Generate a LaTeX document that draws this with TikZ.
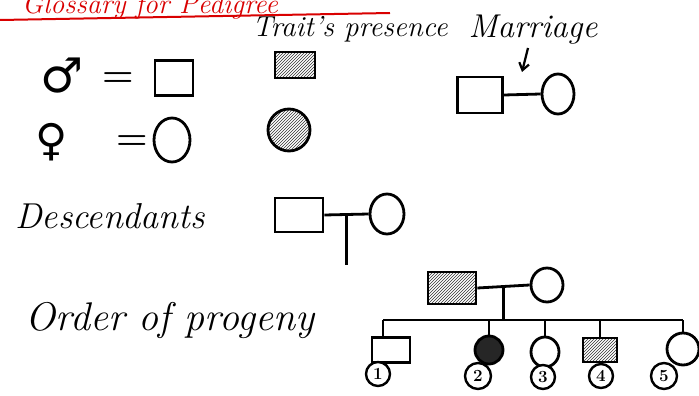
\documentclass[tikz,border=0pt]{standalone}
\usepackage{fontspec}
\newfontfamily\symfont{DejaVu Sans}
\usetikzlibrary{patterns,arrows.meta,shapes.geometric,calc}
\begin{document}
\begin{tikzpicture}[x=1pt,y=-1pt,
  ink/.style={line width=2.8pt, draw=black},
  sq/.style={rectangle, ink, inner sep=0pt},
  ov/.style={ellipse, ink, inner sep=0pt},
  hatch/.style={pattern=north east lines, pattern color=black!80},
  numc/.style={circle, ink, line width=2.4pt, inner sep=0pt, minimum size=#1, font=\fontsize{17}{17}\selectfont\bfseries},
  numc/.default=24pt,
  label/.style={font=\fontsize{#1}{#1}\selectfont\itshape, inner sep=0pt},
  conn/.style={line width=2.8pt, black}]
\useasboundingbox (0,0) rectangle (699,396);
\clip (0,0) rectangle (699,396);
\fill[white] (0,0) rectangle (699,396);
% title (cut off at the top, as in the reference)
\node[anchor=base west, inner sep=0pt, text=red!85!black, font=\fontsize{28}{28}\selectfont\itshape] (title) at (22,14) {Glossary for Pedigree};
\coordinate (ulA) at (0,20);
\coordinate (ulB) at (390,13);
\draw[red!85!black, line width=2pt] (ulA) -- (ulB);
% column headings
\node[label=29] (trait) at (350,29) {Trait's presence};
\node[label=33] (marr) at (533,30) {Marriage};
% male / female
\node[inner sep=0pt, font=\symfont\fontsize{48}{48}\selectfont] (male) at (62,76) {♂};
\node[inner sep=0pt, font=\fontsize{36}{36}\selectfont\bfseries] (eq1) at (118,80) {=};
\node[sq, minimum width=38pt, minimum height=35pt] (msq) at (174,78) {};
\node[inner sep=0pt, font=\symfont\fontsize{44}{44}\selectfont] (female) at (52,142) {♀};
\node[inner sep=0pt, font=\fontsize{36}{36}\selectfont\bfseries] (eq2) at (132,143) {=};
\node[ov, minimum width=36pt, minimum height=44pt] (fci) at (172,140) {};
% trait presence
\node[sq, hatch, minimum width=40pt, minimum height=26pt] (tsq) at (295,65) {};
\node[circle, ink, hatch, inner sep=0pt, minimum size=42pt] (tci) at (289,130) {};
% marriage
\node[sq, minimum width=45pt, minimum height=36pt] (ma) at (480,95) {};
\node[ov, minimum width=32pt, minimum height=40pt] (mb) at (558,94) {};
\draw[conn] (ma.east) -- (mb.west);
\coordinate (arrtip) at (522,72);
\coordinate (arrtail) at (528,48);
\draw[conn, line width=2.2pt, -{Straight Barb[length=7pt,width=10pt]}] (arrtail) -- (arrtip);
% descendants
\node[label=36] (desc) at (110,216) {Descendants};
\node[sq, minimum width=48pt, minimum height=34pt] (da) at (299,215) {};
\node[ov, minimum width=34pt, minimum height=40pt] (db) at (387,214) {};
\draw[conn] (da.east) -- (db.west);
\coordinate (dmid) at ($(da.east)!0.5!(db.west)$);
\coordinate (dend) at ($(dmid)+(0,50)$);
\draw[conn] (dmid) -- (dend);
% order of progeny
\node[label=40] (order) at (170,320) {Order of progeny};
\node[sq, hatch, minimum width=48pt, minimum height=32pt] (pa) at (452,288) {};
\node[ov, minimum width=32pt, minimum height=34pt] (pb) at (547,285) {};
\draw[conn] (pa.east) -- (pb.west);
\coordinate (pm) at ($(pa.east)!0.5!(pb.west)$);
\coordinate (sibL) at (383,320);
\coordinate (sibR) at (683,320);
\coordinate (sibM) at (pm |- sibL);
\draw[conn] (pm) -- (sibM);
\draw[conn] (sibL) -- (sibR);
% children
\node[sq, minimum width=38pt, minimum height=25pt] (c1) at (391,350) {};
\node[circle, ink, fill=black!85, inner sep=0pt, minimum size=28pt] (c2) at (489,350) {};
\node[ov, minimum width=28pt, minimum height=30pt] (c3) at (545,352) {};
\node[sq, hatch, minimum width=34pt, minimum height=24pt] (c4) at (600,350) {};
\node[ov, minimum width=32pt, minimum height=32pt] (c5) at (683,349) {};
\draw[conn] (sibL) -- (sibL |- c1.north);
\draw[conn] (c2.north) -- (c2.north |- sibL);
\draw[conn] (c3.north) -- (c3.north |- sibL);
\draw[conn] (c4.north) -- (c4.north |- sibL);
\draw[conn] (c5.north) -- (c5.north |- sibL);
% birth order numbers
\node[numc, fill=white] (n1) at (378,374) {1};
\node[numc=26pt, fill=white] (n2) at (478,376) {2};
\node[numc, fill=white] (n3) at (543,377) {3};
\node[numc, fill=white] (n4) at (601,376) {4};
\node[numc=26pt, fill=white] (n5) at (664,376) {5};
\end{tikzpicture}
\end{document}
